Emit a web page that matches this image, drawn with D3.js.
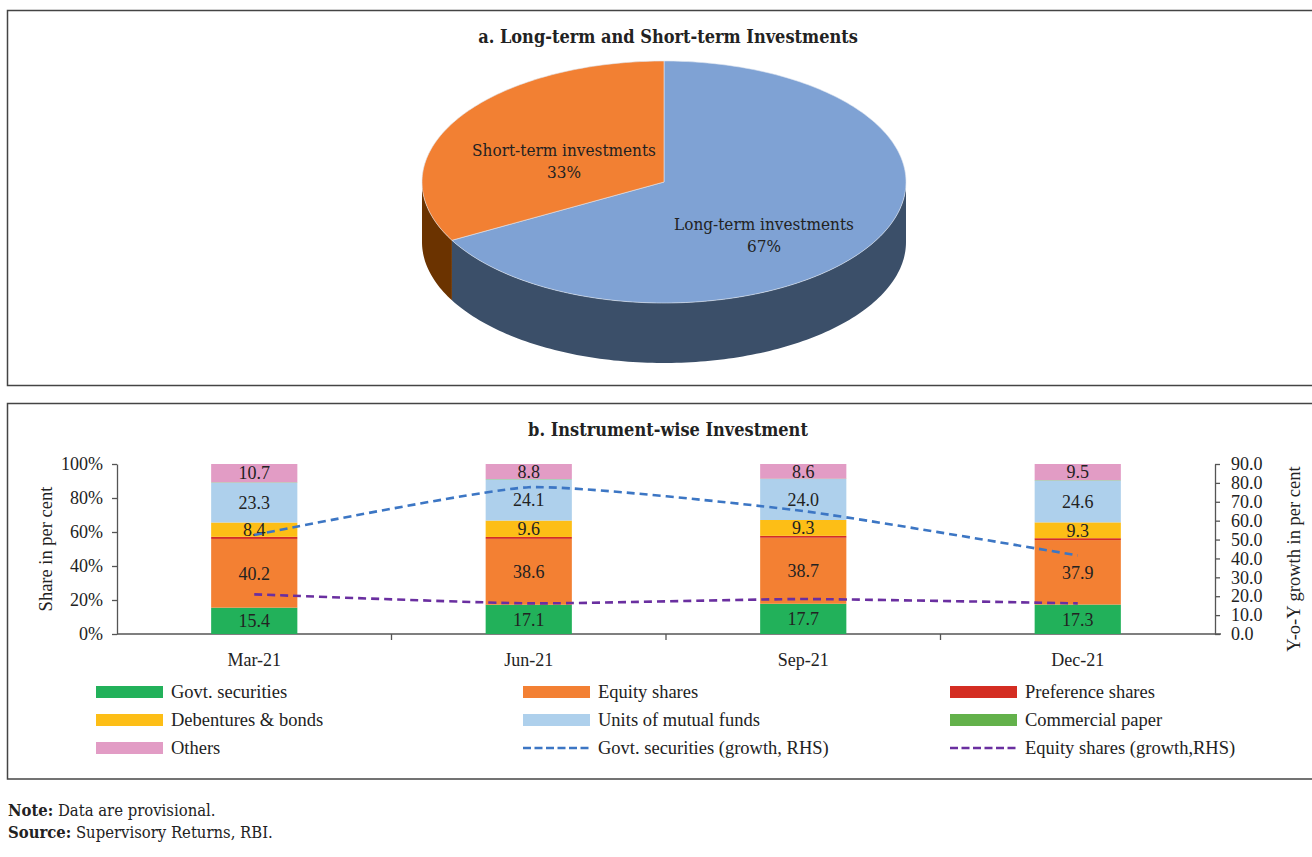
<!DOCTYPE html>
<html>
<head>
<meta charset="utf-8">
<script src="https://cdn.jsdelivr.net/npm/d3@7"></script>
<style>
  body { margin: 0; background: #fff; }
  svg { display: block; }
  .hum { font-family: "DejaVu Serif", serif; font-stretch: condensed; fill: #222; }
  .tnr { font-family: "Liberation Serif", "Times New Roman", serif; fill: #222; }
  .axis text { font-family: "Liberation Serif", "Times New Roman", serif; font-size: 18px; fill: #222; }
  .axis path, .axis line { stroke: #555; stroke-width: 1.3; }
</style>
</head>
<body>
<script>
//==============================================================================
// DATA
//==============================================================================

// panel a: pie
const pieLabels = ['Long-term investments', 'Short-term investments'];
const pieValues = [67, 33];

// panel b: stacked shares
const quarters = ['Mar-21', 'Jun-21', 'Sep-21', 'Dec-21'];
const instruments = ['Govt. securities', 'Equity shares', 'Preference shares',
  'Debentures & bonds', 'Units of mutual funds', 'Commercial paper', 'Others'];
const govtSec    = [15.4, 17.1, 17.7, 17.3];
const equity     = [40.2, 38.6, 38.7, 37.9];
const preference = [1.2, 1.1, 1.1, 1.1];
const debentures = [8.4, 9.6, 9.3, 9.3];
const mutualFund = [23.3, 24.1, 24.0, 24.6];
const commPaper  = [0.2, 0.2, 0.2, 0.2];
const others     = [10.7, 8.8, 8.6, 9.5];

// growth lines (RHS)
const govtGrowth   = [52.4, 77.7, 65.1, 41.6];
const equityGrowth = [21.0, 16.2, 18.5, 16.2];

const leftTicks = [0, 0.2, 0.4, 0.6, 0.8, 1.0];
const rightTicks = [0, 10, 20, 30, 40, 50, 60, 70, 80, 90];

//==============================================================================
// PARAMETERS
//==============================================================================

const W = 1312, H = 857;
const barColors = ['#22b15a', '#f38033', '#d42d22', '#fdbe16', '#aed0ec', '#63b14b', '#e29cc5'];
const labelled = [true, true, false, true, true, false, true];
const lineColors = ['#3c76c4', '#6a2fa0'];

const svg = d3.select('body').append('svg')
  .attr('width', W)
  .attr('height', H);

// panel frames
[[10.5, 385.5], [403.5, 779]].forEach(([y0, y1]) => {
  svg.append('rect')
    .attr('x', 7.5).attr('y', y0)
    .attr('width', W + 10).attr('height', y1 - y0)
    .attr('fill', 'none').attr('stroke', '#444').attr('stroke-width', 1.5);
});

//==============================================================================
// PANEL A: 3D PIE
//==============================================================================

svg.append('text')
  .attr('class', 'hum')
  .attr('x', 668).attr('y', 43)
  .attr('text-anchor', 'middle')
  .style('font-size', '18px').style('font-weight', 'bold')
  .text('a. Long-term and Short-term Investments');

const cx = 664, cy = 182, rx = 242, ry = 121, depth = 60;
const topColors = ['#7fa2d4', '#f28033'];
const sideColors = ['#3b4f69', '#6b3300'];

const arcs = d3.pie().sort(null)(pieValues);

const ept = (a, dy = 0) => [cx + rx * Math.sin(a), cy - ry * Math.cos(a) + dy];

function sampled(a0, a1, dy) {
  const n = Math.max(2, Math.ceil(Math.abs(a1 - a0) / 0.02));
  return d3.range(n + 1).map(i => ept(a0 + (a1 - a0) * i / n, dy));
}

const lineGen = d3.line();

// sides (only the front half, pi/2 .. 3pi/2, is visible)
arcs.forEach((d, i) => {
  const a0 = Math.max(d.startAngle, Math.PI / 2);
  const a1 = Math.min(d.endAngle, 3 * Math.PI / 2);
  if (a1 <= a0) return;
  const pts = sampled(a0, a1, 0).concat(sampled(a1, a0, depth));
  svg.append('path')
    .attr('d', lineGen(pts) + 'Z')
    .attr('fill', sideColors[i]);
});

// tops
arcs.forEach((d, i) => {
  const pts = [[cx, cy]].concat(sampled(d.startAngle, d.endAngle, 0));
  svg.append('path')
    .attr('d', lineGen(pts) + 'Z')
    .attr('fill', topColors[i])
    .attr('stroke', '#dfe6f0').attr('stroke-width', 0.6);
});

// labels
arcs.forEach((d, i) => {
  const mid = (d.startAngle + d.endAngle) / 2;
  const lx = cx + rx * 0.48 * Math.sin(mid);
  const ly = cy - ry * 0.6 * Math.cos(mid) + 16;
  const t = svg.append('text')
    .attr('class', 'hum')
    .attr('text-anchor', 'middle')
    .style('font-size', '17px');
  t.append('tspan').attr('x', lx).attr('y', ly - 5).text(pieLabels[i]);
  t.append('tspan').attr('x', lx).attr('y', ly + 17).text(pieValues[i] + '%');
});

//==============================================================================
// PANEL B: STACKED BARS + LINES
//==============================================================================

svg.append('text')
  .attr('class', 'hum')
  .attr('x', 668).attr('y', 436)
  .attr('text-anchor', 'middle')
  .style('font-size', '18px').style('font-weight', 'bold')
  .text('b. Instrument-wise Investment');

const plot = { left: 117, right: 1215, top: 464, bottom: 634 };

const x = d3.scaleBand().domain(quarters).range([plot.left, plot.right]).padding(0);
const yL = d3.scaleLinear().domain([0, 1]).range([plot.bottom, plot.top]);
const yR = d3.scaleLinear().domain([0, 90]).range([plot.bottom, plot.top]);
const barW = x.bandwidth() * 0.314;

const series = [govtSec, equity, preference, debentures, mutualFund, commPaper, others];
const table = quarters.map((q, j) => {
  const row = { q };
  instruments.forEach((k, i) => { row[k] = series[i][j]; });
  return row;
});

const stacked = d3.stack().keys(instruments).offset(d3.stackOffsetExpand)(table);

// left axis
svg.append('g')
  .attr('class', 'axis')
  .attr('transform', `translate(${plot.left},0)`)
  .call(d3.axisLeft(yL).tickValues(leftTicks).tickFormat(d3.format('.0%'))
    .tickSize(5).tickSizeOuter(0).tickPadding(9));

// right axis
svg.append('g')
  .attr('class', 'axis')
  .attr('transform', `translate(${plot.right},0)`)
  .call(d3.axisRight(yR).tickValues(rightTicks).tickFormat(d3.format('.1f'))
    .tickSize(5).tickSizeOuter(0).tickPadding(11));

// x axis
const xAxis = svg.append('g').attr('class', 'axis');
xAxis.append('line')
  .attr('x1', plot.left).attr('x2', plot.right + 6)
  .attr('y1', plot.bottom).attr('y2', plot.bottom);
xAxis.selectAll('.tk')
  .data(quarters.slice(1))
  .enter().append('line')
  .attr('x1', d => x(d)).attr('x2', d => x(d))
  .attr('y1', plot.bottom).attr('y2', plot.bottom + 6);
xAxis.selectAll('.cat')
  .data(quarters)
  .enter().append('text')
  .attr('x', d => x(d) + x.bandwidth() / 2)
  .attr('y', plot.bottom + 32)
  .attr('text-anchor', 'middle')
  .text(d => d);

// axis titles
svg.append('text')
  .attr('class', 'tnr')
  .attr('transform', `translate(52,${(plot.top + plot.bottom) / 2}) rotate(-90)`)
  .attr('text-anchor', 'middle')
  .style('font-size', '18.5px')
  .text('Share in per cent');

svg.append('text')
  .attr('class', 'tnr')
  .attr('transform', `translate(1300,${(plot.top + plot.bottom) / 2 + 10}) rotate(-90)`)
  .attr('text-anchor', 'middle')
  .style('font-size', '18.5px')
  .text('Y-o-Y growth in per cent');

// bars
const layers = svg.selectAll('.layer')
  .data(stacked)
  .enter().append('g')
  .attr('fill', (d, i) => barColors[i]);

layers.selectAll('rect')
  .data(d => d)
  .enter().append('rect')
  .attr('x', d => x(d.data.q) + (x.bandwidth() - barW) / 2)
  .attr('width', barW)
  .attr('y', d => yL(d[1]))
  .attr('height', d => yL(d[0]) - yL(d[1]));

// bar value labels
stacked.forEach((layer, i) => {
  if (!labelled[i]) return;
  svg.selectAll(null)
    .data(layer)
    .enter().append('text')
    .attr('class', 'tnr')
    .attr('x', d => x(d.data.q) + x.bandwidth() / 2)
    .attr('y', d => yL((d[0] + d[1]) / 2))
    .attr('dy', '0.35em')
    .attr('text-anchor', 'middle')
    .style('font-size', '18px')
    .text(d => d.data[layer.key].toFixed(1));
});

// growth lines
const growthLine = d3.line()
  .x((d, j) => x(quarters[j]) + x.bandwidth() / 2)
  .y(d => yR(d))
  .curve(d3.curveCardinal.tension(0.5));

[govtGrowth, equityGrowth].forEach((vals, i) => {
  svg.append('path')
    .attr('d', growthLine(vals))
    .attr('fill', 'none')
    .attr('stroke', lineColors[i])
    .attr('stroke-width', 2.6)
    .attr('stroke-dasharray', '8,5');
});

//==============================================================================
// LEGEND
//==============================================================================

const legendItems = instruments.map((k, i) => ({ name: k, color: barColors[i], dash: false }))
  .concat([
    { name: 'Govt. securities (growth, RHS)', color: lineColors[0], dash: true },
    { name: 'Equity shares (growth,RHS)', color: lineColors[1], dash: true }
  ]);

const lg = svg.selectAll('.lg')
  .data(legendItems)
  .enter().append('g')
  .attr('transform', (d, i) => `translate(${96 + (i % 3) * 427},${692 + Math.floor(i / 3) * 28})`);

lg.filter(d => !d.dash).append('rect')
  .attr('x', 0).attr('y', -6)
  .attr('width', 67).attr('height', 12)
  .attr('fill', d => d.color);

lg.filter(d => d.dash).append('line')
  .attr('x1', 0).attr('x2', 67)
  .attr('stroke', d => d.color)
  .attr('stroke-width', 2.6)
  .attr('stroke-dasharray', '8,3.5');

lg.append('text')
  .attr('class', 'tnr')
  .attr('x', 75)
  .attr('dy', '0.35em')
  .style('font-size', '18.5px')
  .text(d => d.name);

//==============================================================================
// NOTES
//==============================================================================

const notes = [['Note:', ' Data are provisional.'], ['Source:', ' Supervisory Returns, RBI.']];
notes.forEach(([b, rest], i) => {
  const t = svg.append('text')
    .attr('class', 'hum')
    .attr('x', 8).attr('y', 816 + i * 22)
    .style('font-size', '16.5px');
  t.append('tspan').style('font-weight', 'bold').text(b);
  t.append('tspan').text(rest);
});
</script>
</body>
</html>
